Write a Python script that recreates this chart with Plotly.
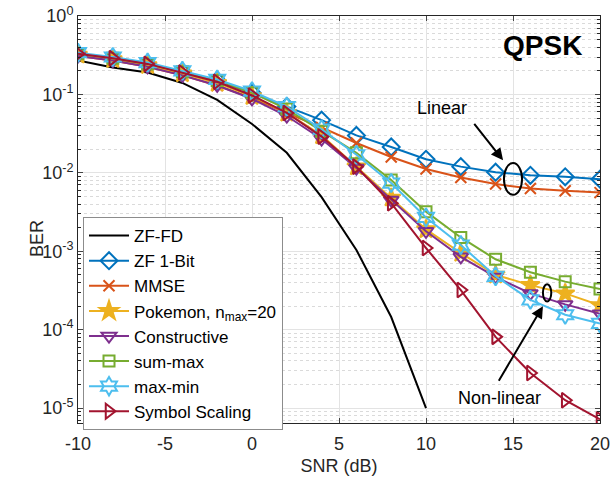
import plotly.graph_objects as go

snr_fd = [-10, -8, -6, -4, -2, 0, 2, 4, 6, 8, 10]
ber_zf_fd = [0.27, 0.22, 0.19, 0.14, 0.085, 0.042, 0.018, 0.0049, 0.00104, 0.000145, 0.00001]

snr = [-10, -8, -6, -4, -2, 0, 2, 4, 6, 8, 10, 12, 14, 16, 18, 20]
ber_zf1bit = [0.33, 0.29, 0.245, 0.195, 0.15, 0.105, 0.07, 0.047, 0.030, 0.0214, 0.0149, 0.012, 0.0102, 0.0093, 0.0089, 0.0083]
ber_mmse = [0.31, 0.27, 0.225, 0.175, 0.13, 0.09, 0.058, 0.038, 0.024, 0.0159, 0.0112, 0.0087, 0.0072, 0.0063, 0.0059, 0.0056]
ber_pokemon = [0.32, 0.28, 0.235, 0.185, 0.14, 0.095, 0.058, 0.030, 0.012, 0.0048, 0.0019, 0.00095, 0.0005, 0.00037, 0.00029, 0.000205]
ber_constructive = [0.31, 0.27, 0.225, 0.175, 0.13, 0.088, 0.053, 0.027, 0.0115, 0.0045, 0.0018, 0.00085, 0.00047, 0.00029, 0.00021, 0.00016]
ber_summax = [0.33, 0.29, 0.245, 0.195, 0.15, 0.105, 0.065, 0.034, 0.018, 0.0081, 0.0032, 0.0015, 0.00079, 0.00054, 0.00041, 0.00033]
ber_maxmin = [0.34, 0.30, 0.255, 0.20, 0.155, 0.11, 0.07, 0.036, 0.017, 0.0074, 0.0027, 0.0012, 0.00048, 0.00024, 0.000155, 0.00012]
ber_symscale = [0.33, 0.29, 0.245, 0.19, 0.145, 0.097, 0.058, 0.029, 0.012, 0.0041, 0.0011, 0.00032, 0.000081, 0.000028, 0.0000126, 0.0000072]

ytick_vals = [1e0, 1e-1, 1e-2, 1e-3, 1e-4, 1e-5]
ytick_text = ["10<sup>0</sup>", "10<sup>-1</sup>", "10<sup>-2</sup>", "10<sup>-3</sup>", "10<sup>-4</sup>", "10<sup>-5</sup>"]
xtick_vals = [-10, -5, 0, 5, 10, 15, 20]
xtick_text = ["-10", "-5", "0", "5", "10", "15", "20"]

FONT = "Liberation Sans, Arial, Helvetica, sans-serif"

fig = go.Figure()
fig.add_trace(go.Scatter(x=snr_fd, y=ber_zf_fd, mode="lines", name="ZF-FD",
                         line=dict(color="black", width=2)))

series = [
    ("ZF 1-Bit", ber_zf1bit, "#0072BD", "diamond-open", 13),
    ("MMSE", ber_mmse, "#D95319", "x-thin-open", 11),
    ("Pokemon, n<sub>max</sub>=20", ber_pokemon, "#EDB120", "star", 14),
    ("Constructive", ber_constructive, "#7E2F8E", "triangle-down-open", 13),
    ("sum-max", ber_summax, "#77AC30", "square-open", 11),
    ("max-min", ber_maxmin, "#4DBEEE", "hexagram-open", 14),
    ("Symbol Scaling", ber_symscale, "#A2142F", "triangle-right-open", 13),
]
for name, vals, col, sym, sz in series:
    fig.add_trace(go.Scatter(
        x=snr, y=vals, mode="lines+markers", name=name,
        line=dict(color=col, width=2),
        marker=dict(symbol=sym, size=sz, color=col, line=dict(color=col, width=2)),
    ))

fig.update_layout(
    template="none",
    width=615, height=480,
    margin=dict(l=78, r=15, t=16, b=57, autoexpand=False),
    paper_bgcolor="white", plot_bgcolor="white",
    font=dict(family=FONT, size=18, color="#262626"),
    showlegend=True,
    legend=dict(x=0.0096, y=0.506, xanchor="left", yanchor="top",
                bgcolor="white", bordercolor="#8c8c8c", borderwidth=1,
                font=dict(size=17, color="black"), tracegroupgap=0,
                itemwidth=40),
    xaxis=dict(range=[-10, 20], tickvals=xtick_vals, ticktext=xtick_text,
               ticks="inside", ticklen=5, ticklabelstandoff=4,
               showline=True, linecolor="#262626", linewidth=1, mirror="allticks",
               showgrid=True, gridcolor="#e3e3e3", gridwidth=1, zeroline=False,
               automargin=False,
               title=dict(text="SNR (dB)", font=dict(size=18), standoff=6),
               tickfont=dict(size=18)),
    yaxis=dict(type="log", range=[-5.19, 0], tickvals=ytick_vals, ticktext=ytick_text,
               ticks="inside", ticklen=5,
               showline=True, linecolor="#262626", linewidth=1, mirror="allticks",
               showgrid=True, gridcolor="#e3e3e3", gridwidth=1, zeroline=False,
               automargin=False,
               minor=dict(dtick="D1", showgrid=True, griddash="dot", gridcolor="#dadada",
                          ticks="inside", ticklen=3, tickcolor="#262626"),
               tickfont=dict(size=18)),
)

# y-axis title placed as rotated text
fig.add_annotation(x=-0.1015, y=0.452, xref="paper", yref="paper", text="BER",
                   textangle=-90, showarrow=False, font=dict(size=18, color="#262626"))

# ellipses marking groups (shape coordinates are data values on the log axis)
fig.add_shape(type="circle", xref="x", yref="y", x0=14.48, x1=15.52,
              y0=10 ** -2.28, y1=10 ** -1.875, line=dict(color="black", width=2))
fig.add_shape(type="circle", xref="x", yref="y", x0=16.72, x1=17.2,
              y0=10 ** -3.64, y1=10 ** -3.42, line=dict(color="black", width=2))

fig.add_annotation(x=14.43, y=-1.84, xref="x", yref="y", ax=-30, ay=-38, text="",
                   showarrow=True, arrowhead=2, arrowsize=1.2, arrowwidth=2, arrowcolor="black")
fig.add_annotation(x=10.9, y=-1.17, xref="x", yref="y", text="Linear", showarrow=False,
                   font=dict(size=18, color="black"))
fig.add_annotation(x=16.72, y=-3.70, xref="x", yref="y", ax=-45, ay=76, text="",
                   showarrow=True, arrowhead=2, arrowsize=1.2, arrowwidth=2, arrowcolor="black")
fig.add_annotation(x=14.2, y=-4.87, xref="x", yref="y", text="Non-linear", showarrow=False,
                   font=dict(size=18, color="black"))
fig.add_annotation(x=16.72, y=-0.37, xref="x", yref="y", text="<b>QPSK</b>", showarrow=False,
                   font=dict(size=28, color="black"))

fig.write_html("out.html", config={"displayModeBar": False},
               post_script="document.body.style.margin='0px';")
